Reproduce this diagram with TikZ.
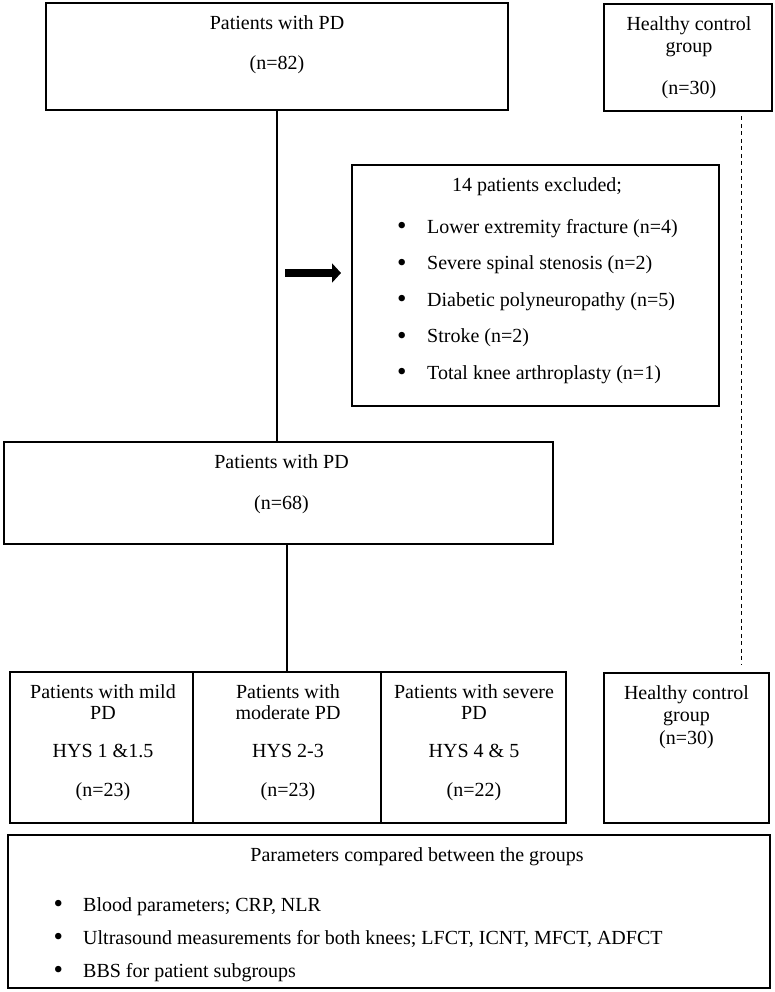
\documentclass[tikz,border=0pt]{standalone}
\usepackage{fontspec}
\usepackage{graphicx}
\setmainfont{Liberation Serif}
\usetikzlibrary{arrows.meta,positioning}
\tikzset{
  base/.style={font=\fontsize{20}{20}\selectfont, align=center, inner sep=0pt, text=black},
  box/.style={rectangle, draw=black, line width=2.6pt, inner sep=0pt},
  hd/.style={base, anchor=base},
  lst/.style={base, align=left, anchor=base west},
  conn/.style={line width=2.6pt, draw=black},
  connd/.style={line width=1.2pt, draw=black, dash pattern=on 4pt off 3.5pt},
  barr/.style={-{Triangle[length=9pt,width=19pt]}, line width=8pt, draw=black},
}
\newcommand{\bulit}[2][30pt]{\makebox[#1][l]{\raisebox{-1.5pt}{\scalebox{1.35}{\textbullet}}}#2}

\begin{document}
\begin{tikzpicture}[x=1pt,y=1pt]
  \useasboundingbox (0,0) rectangle (775,-992);
  % boxes
  \node[box,minimum width=462pt,minimum height=107pt] (pd82) at (277,-56.5) {};
  \node[box,minimum width=168pt,minimum height=107pt] (hc1) at (688,-57.5) {};
  \node[box,minimum width=367pt,minimum height=241pt] (excl) at (535.5,-285.5) {};
  \node[box,minimum width=549pt,minimum height=102pt] (pd68) at (278.5,-493) {};
  \node[box,minimum width=183pt,minimum height=151pt] (mild) at (101.5,-747.5) {};
  \node[box,minimum width=188pt,minimum height=151pt] (mod) at (287,-747.5) {};
  \node[box,minimum width=185pt,minimum height=151pt] (sev) at (473.5,-747.5) {};
  \node[box,minimum width=165pt,minimum height=150pt] (hc2) at (686.5,-748) {};
  \node[box,minimum width=762pt,minimum height=153pt] (par) at (389,-911.5) {};
  % texts (anchor base = last line)
  \node[hd] (pd82t) at (277,-70) {Patients with PD\\[20pt](n=82)};
  \node[hd] (hc1t) at (689,-95) {Healthy control\\[2pt]group\\[22pt](n=30)};
  \node[hd] (exclt) at (537,-192) {14 patients excluded;};
  \node[lst] (excll) at (397,-379) {\bulit{Lower extremity fracture (n=4)}\\[16.5pt]
    \bulit{Severe spinal stenosis (n=2)}\\[16.5pt]
    \bulit{Diabetic polyneuropathy (n=5)}\\[16.5pt]
    \bulit{Stroke (n=2)}\\[16.5pt]
    \bulit{Total knee arthroplasty (n=1)}};
  \node[hd] (pd68t) at (281.5,-509) {Patients with PD\\[21pt](n=68)};
  \node[hd] (mildt) at (103,-796) {Patients with mild\\[1pt]PD\\[18pt]HYS 1 \&1.5\\[19pt](n=23)};
  \node[hd] (modt) at (288,-796) {Patients with\\[1pt]moderate PD\\[18pt]HYS 2-3\\[19pt](n=23)};
  \node[hd] (sevt) at (474,-796) {Patients with severe\\[1pt]PD\\[18pt]HYS 4 \& 5\\[19pt](n=22)};
  \node[hd] (hc2t) at (686.5,-744) {Healthy control\\[2pt]group\\[3pt](n=30)};
  \node[hd] (part) at (417,-861) {Parameters compared between the groups};
  \node[lst] (parl) at (53.5,-977) {\bulit[29.5pt]{Blood parameters; CRP, NLR}\\[13pt]
    \bulit[29.5pt]{Ultrasound measurements for both knees; LFCT, ICNT, MFCT, ADFCT}\\[13pt]
    \bulit[29.5pt]{BBS for patient subgroups}};
  % connectors
  \draw[conn] (pd82.south) -- (pd82.south |- pd68.north);
  \draw[conn] (mod.north) -- (mod.north |- pd68.south);
  \coordinate (arrtail) at (285,-273);
  \coordinate (arrhead) at (341,-273);
  \draw[barr] (arrtail) -- (arrhead);
  \draw[connd] ([xshift=-32pt,yshift=-4pt]hc1.south east) -- ([xshift=-29pt,yshift=7pt]hc2.north east);
\end{tikzpicture}
\end{document}
